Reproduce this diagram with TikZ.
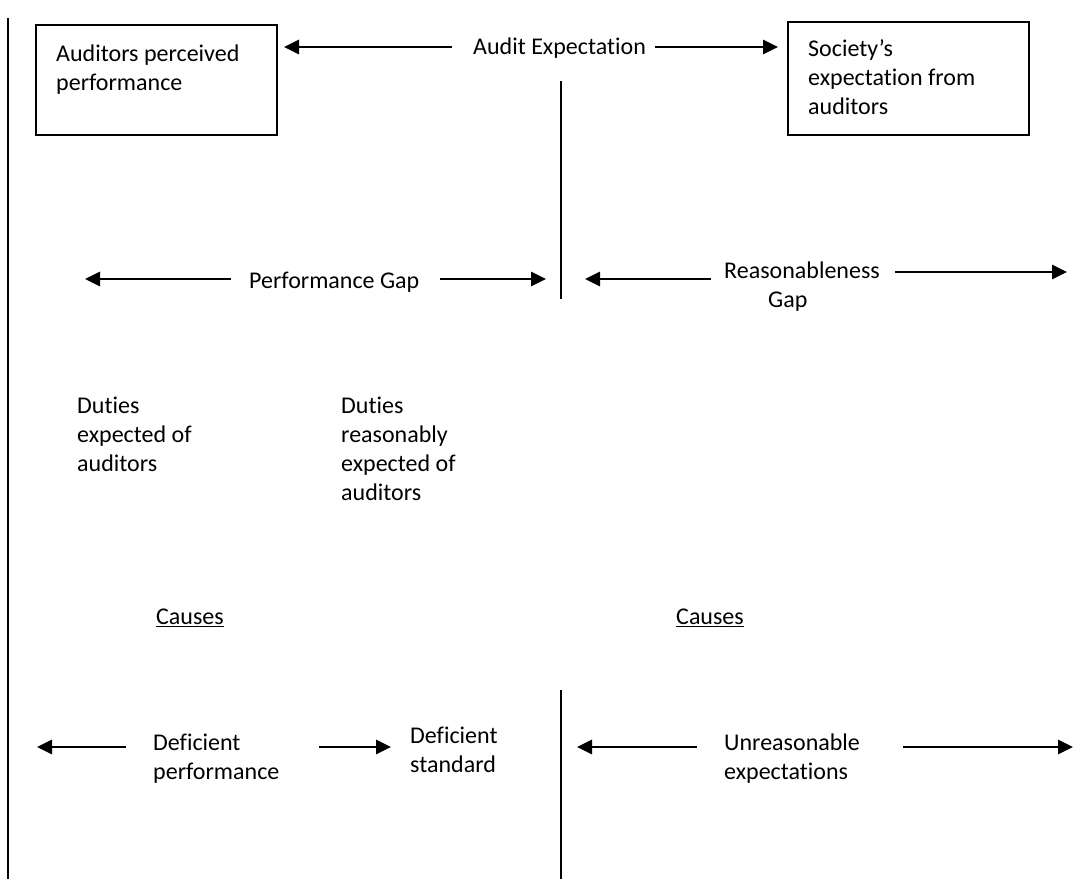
\documentclass[tikz,border=0pt]{standalone}
\usepackage{fontspec}
\setmainfont{Carlito}[Ligatures={NoCommon,NoContextual}]
\usetikzlibrary{arrows.meta}
\begin{document}
\begin{tikzpicture}[x=1pt,y=-1pt,
  txt/.style={anchor=north west,align=left,inner sep=0pt,font=\fontsize{24}{29}\selectfont},
  boxed/.style={draw,line width=1.8pt,anchor=north west,inner sep=0pt},
  arr/.style={line width=2.8pt,-{Triangle[length=15pt,width=14pt]}},
  rule/.style={line width=1.8pt}]
\useasboundingbox (0,0) rectangle (1081,879);
% frame line on the left
\coordinate (lt) at (8,18);
\coordinate (lb) at (8,879);
\draw[rule] (lt) -- (lb);
% boxes
\node[boxed,minimum width=241pt,minimum height=110pt] (b1) at (35,24) {};
\node[boxed,minimum width=241pt,minimum height=113pt] (b2) at (787,21) {};
\node[txt] (t1) at (56,44.5) {Auditors perceived\\performance};
\node[txt] (t2) at (808,39.5) {Society’s\\expectation from\\auditors};
% audit expectation
\node[txt] (ae) at (473,37.5) {Audit Expectation};
\coordinate (ae1) at (452,47);
\coordinate (ae2) at (284,47);
\coordinate (ae3) at (655,47);
\coordinate (ae4) at (778,47);
\draw[arr] (ae1) -- (ae2);
\draw[arr] (ae3) -- (ae4);
% vertical divider top
\coordinate (v1) at (561,81);
\coordinate (v2) at (561,299);
\draw[rule] (v1) -- (v2);
% performance gap
\node[txt] (pg) at (249,271.5) {Performance Gap};
\coordinate (pg1) at (231,279);
\coordinate (pg2) at (85,279);
\coordinate (pg3) at (440,279);
\coordinate (pg4) at (546,279);
\draw[arr] (pg1) -- (pg2);
\draw[arr] (pg3) -- (pg4);
% reasonableness gap
\node[txt] (rg) at (724,261.5) {Reasonableness\\\hspace*{44pt}Gap};
\coordinate (rg1) at (711,279);
\coordinate (rg2) at (585,279);
\coordinate (rg3) at (895,272);
\coordinate (rg4) at (1067,272);
\draw[arr] (rg1) -- (rg2);
\draw[arr] (rg3) -- (rg4);
% duties
\node[txt] (d1) at (77,396.5) {Duties\\expected of\\auditors};
\node[txt] (d2) at (341,396.5) {Duties\\reasonably\\expected of\\auditors};
% causes
\node[txt] (c1) at (156,608.5) {\underline{Causes}};
\node[txt] (c2) at (676,608.5) {\underline{Causes}};
% bottom divider
\coordinate (v3) at (561,690);
\coordinate (v4) at (561,879);
\draw[rule] (v3) -- (v4);
% bottom row
\node[txt] (dp) at (153,733.5) {Deficient\\performance};
\node[txt] (ds) at (410,726.5) {Deficient\\standard};
\node[txt] (ue) at (724,733.5) {Unreasonable\\expectations};
\coordinate (dp1) at (126,747);
\coordinate (dp2) at (37,747);
\coordinate (dp3) at (319,747);
\coordinate (dp4) at (391,747);
\coordinate (ue1) at (697,747);
\coordinate (ue2) at (577,747);
\coordinate (ue3) at (903,747);
\coordinate (ue4) at (1073,747);
\draw[arr] (dp1) -- (dp2);
\draw[arr] (dp3) -- (dp4);
\draw[arr] (ue1) -- (ue2);
\draw[arr] (ue3) -- (ue4);
\end{tikzpicture}
\end{document}
